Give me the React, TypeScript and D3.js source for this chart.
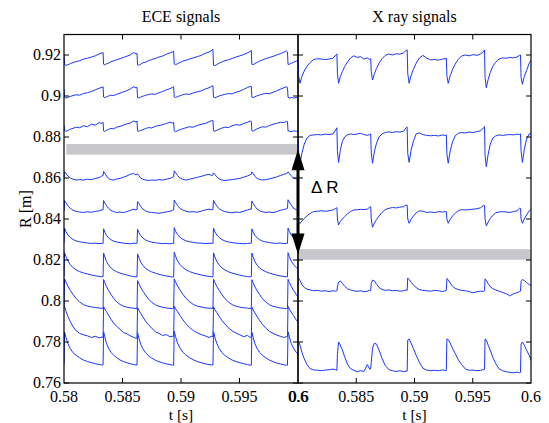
import React from "react";
import * as d3 from "d3";

// sawtooth crash times (s); the last one is the nominal end of the cut-off cycle
const CRASH_T = [0.58, 0.58334, 0.58624, 0.58937, 0.59273, 0.59601, 0.5991, 0.60235];
// where the samples sit inside each cycle (fraction of the cycle)
const PHASE = [0, 0.015, 0.05, 0.1, 0.16, 0.23, 0.31, 0.4, 0.5, 0.6, 0.7, 0.8, 0.9, 0.97];

// R values in 1e-4 m, one row per crash cycle
const ece920 = [
  [9200, 9153, 9150, 9152, 9158, 9163, 9168, 9172, 9180, 9184, 9190, 9196, 9205, 9210],
  [9212, 9155, 9152, 9157, 9160, 9167, 9171, 9177, 9182, 9188, 9194, 9200, 9212, 9205],
  [9208, 9152, 9150, 9155, 9162, 9165, 9172, 9178, 9183, 9190, 9195, 9204, 9210, 9215],
  [9218, 9156, 9152, 9158, 9163, 9170, 9174, 9180, 9186, 9192, 9198, 9208, 9214, 9222],
  [9228, 9150, 9148, 9153, 9160, 9166, 9172, 9176, 9183, 9190, 9196, 9202, 9210, 9218],
  [9222, 9155, 9153, 9158, 9164, 9170, 9176, 9182, 9188, 9193, 9200, 9206, 9214, 9220],
  [9215, 9154, 9155, 9160, 9165, 9170, 9176],
];
const ece900 = [
  [9035, 8993, 8990, 8994, 8998, 9002, 9006, 9004, 9012, 9016, 9022, 9030, 9038, 9042],
  [9045, 8995, 8992, 8996, 9000, 9004, 9002, 9008, 9014, 9020, 9026, 9034, 9045, 9040],
  [9042, 8992, 8990, 8995, 8999, 9003, 9007, 9010, 9008, 9016, 9022, 9030, 9036, 9042],
  [9045, 8996, 8993, 8997, 9001, 9006, 9010, 9008, 9015, 9020, 9025, 9034, 9040, 9048],
  [9050, 8994, 8991, 8995, 9000, 9004, 9008, 9012, 9010, 9018, 9024, 9032, 9042, 9046],
  [9046, 8995, 8992, 8997, 9001, 9005, 9009, 9013, 9011, 9018, 9025, 9033, 9040, 9045],
  [9042, 8994, 8990, 8993, 8990, 8992, 8994],
];
const ece885 = [
  [8860, 8832, 8828, 8832, 8838, 8842, 8848, 8845, 8855, 8850, 8862, 8858, 8870, 8866],
  [8872, 8830, 8827, 8833, 8837, 8842, 8840, 8848, 8852, 8858, 8864, 8868, 8878, 8874],
  [8878, 8829, 8828, 8832, 8836, 8841, 8846, 8844, 8852, 8856, 8860, 8866, 8872, 8868],
  [8872, 8830, 8826, 8831, 8836, 8840, 8845, 8850, 8848, 8856, 8862, 8866, 8874, 8880],
  [8880, 8830, 8828, 8833, 8838, 8843, 8848, 8846, 8855, 8860, 8858, 8866, 8872, 8878],
  [8876, 8831, 8828, 8834, 8840, 8845, 8850, 8848, 8856, 8862, 8866, 8872, 8870, 8876],
  [8875, 8830, 8828, 8826, 8830, 8828, 8825],
];
const ece860 = [
  [8600, 8630, 8622, 8610, 8600, 8594, 8590, 8592, 8590, 8594, 8592, 8598, 8602, 8610],
  [8612, 8632, 8624, 8610, 8598, 8592, 8590, 8595, 8598, 8604, 8610, 8618, 8622, 8615],
  [8618, 8620, 8612, 8600, 8594, 8590, 8588, 8590, 8589, 8592, 8590, 8594, 8598, 8604],
  [8606, 8635, 8626, 8612, 8600, 8594, 8590, 8594, 8598, 8603, 8608, 8614, 8618, 8612],
  [8615, 8625, 8618, 8605, 8596, 8590, 8588, 8590, 8592, 8595, 8598, 8604, 8610, 8616],
  [8618, 8630, 8622, 8608, 8598, 8593, 8590, 8592, 8596, 8600, 8605, 8612, 8618, 8622],
  [8624, 8630, 8622, 8610, 8600, 8596, 8594],
];
const ece845 = [
  [8440, 8490, 8480, 8465, 8452, 8443, 8437, 8434, 8432, 8435, 8433, 8437, 8440, 8444],
  [8446, 8490, 8478, 8466, 8452, 8442, 8436, 8432, 8434, 8431, 8436, 8442, 8448, 8444],
  [8446, 8485, 8476, 8462, 8448, 8440, 8434, 8432, 8430, 8428, 8431, 8434, 8438, 8442],
  [8444, 8492, 8480, 8466, 8452, 8444, 8438, 8434, 8436, 8433, 8438, 8444, 8448, 8445],
  [8446, 8490, 8478, 8464, 8450, 8442, 8436, 8433, 8430, 8434, 8432, 8438, 8444, 8448],
  [8448, 8488, 8476, 8462, 8448, 8440, 8435, 8432, 8434, 8431, 8436, 8442, 8446, 8450],
  [8452, 8494, 8482, 8468, 8452, 8446, 8442],
];
const ece830 = [
  [8283, 8355, 8338, 8322, 8310, 8300, 8293, 8289, 8286, 8283, 8281, 8282, 8280, 8281],
  [8281, 8352, 8336, 8320, 8308, 8299, 8292, 8288, 8285, 8282, 8281, 8279, 8282, 8281],
  [8281, 8350, 8334, 8319, 8307, 8298, 8292, 8287, 8284, 8282, 8280, 8281, 8279, 8281],
  [8281, 8358, 8340, 8324, 8311, 8301, 8294, 8289, 8286, 8283, 8282, 8280, 8282, 8281],
  [8281, 8355, 8338, 8322, 8310, 8300, 8293, 8288, 8285, 8282, 8281, 8279, 8281, 8282],
  [8282, 8352, 8336, 8320, 8308, 8299, 8292, 8288, 8285, 8282, 8281, 8283, 8280, 8281],
  [8281, 8356, 8339, 8322, 8310, 8300, 8293],
];
const ece815 = [
  [8120, 8236, 8216, 8196, 8178, 8163, 8152, 8143, 8137, 8132, 8127, 8123, 8120, 8118],
  [8118, 8234, 8215, 8192, 8176, 8162, 8151, 8143, 8136, 8131, 8127, 8122, 8119, 8118],
  [8118, 8230, 8212, 8190, 8174, 8160, 8150, 8142, 8136, 8130, 8126, 8122, 8119, 8117],
  [8117, 8238, 8218, 8195, 8178, 8164, 8153, 8144, 8137, 8132, 8127, 8123, 8120, 8118],
  [8118, 8235, 8215, 8193, 8176, 8162, 8152, 8143, 8136, 8131, 8126, 8122, 8119, 8118],
  [8118, 8234, 8214, 8192, 8175, 8161, 8151, 8143, 8136, 8131, 8126, 8122, 8120, 8118],
  [8118, 8236, 8216, 8194, 8177, 8163, 8152],
];
const ece800 = [
  [7966, 8108, 8092, 8072, 8052, 8032, 8012, 7995, 7982, 7975, 7971, 7968, 7966, 7964],
  [7964, 8105, 8090, 8070, 8052, 8033, 8013, 7996, 7983, 7975, 7970, 7967, 7965, 7963],
  [7963, 8100, 8086, 8066, 8048, 8030, 8010, 7994, 7981, 7974, 7970, 7966, 7964, 7963],
  [7963, 8108, 8093, 8073, 8054, 8034, 8014, 7997, 7983, 7975, 7971, 7967, 7965, 7964],
  [7964, 8106, 8091, 8071, 8052, 8032, 8012, 7996, 7982, 7975, 7970, 7967, 7965, 7964],
  [7964, 8104, 8089, 8069, 8050, 8031, 8011, 7995, 7982, 7974, 7970, 7966, 7964, 7963],
  [7963, 8106, 8091, 8071, 8052, 8032, 8012],
];
const ece785 = [
  [7968, 7972, 7950, 7925, 7900, 7875, 7855, 7842, 7835, 7830, 7822, 7828, 7820, 7824],
  [7822, 7972, 7960, 7948, 7932, 7911, 7893, 7876, 7862, 7846, 7840, 7830, 7823, 7818],
  [7820, 7968, 7955, 7940, 7922, 7902, 7885, 7868, 7850, 7842, 7832, 7836, 7826, 7828],
  [7826, 7975, 7962, 7948, 7930, 7910, 7890, 7872, 7856, 7845, 7836, 7830, 7822, 7828],
  [7826, 7972, 7958, 7944, 7926, 7906, 7888, 7870, 7854, 7844, 7835, 7826, 7832, 7822],
  [7824, 7970, 7956, 7942, 7924, 7904, 7886, 7868, 7852, 7842, 7834, 7828, 7822, 7826],
  [7826, 7974, 7960, 7946, 7928, 7908, 7890],
];
const ece770 = [
  [7690, 7848, 7822, 7792, 7768, 7748, 7735, 7723, 7712, 7705, 7699, 7694, 7690, 7688],
  [7688, 7850, 7825, 7794, 7770, 7750, 7736, 7724, 7712, 7705, 7699, 7694, 7690, 7688],
  [7688, 7845, 7820, 7790, 7767, 7748, 7734, 7722, 7711, 7704, 7698, 7693, 7690, 7687],
  [7687, 7852, 7826, 7795, 7771, 7751, 7737, 7724, 7713, 7705, 7699, 7694, 7690, 7688],
  [7688, 7850, 7824, 7793, 7769, 7749, 7735, 7723, 7712, 7705, 7699, 7694, 7690, 7687],
  [7687, 7848, 7823, 7792, 7768, 7749, 7735, 7723, 7712, 7704, 7698, 7693, 7689, 7687],
  [7687, 7850, 7824, 7793, 7769, 7750, 7736],
];

const xr920 = [
  [9176, 9100, 9062, 9095, 9122, 9145, 9163, 9178, 9182, 9180, 9178, 9180, 9184, 9200],
  [9205, 9110, 9062, 9094, 9119, 9144, 9165, 9185, 9196, 9188, 9192, 9180, 9186, 9178],
  [9182, 9120, 9078, 9108, 9135, 9160, 9182, 9198, 9205, 9200, 9206, 9204, 9210, 9222],
  [9225, 9110, 9062, 9100, 9130, 9160, 9185, 9198, 9185, 9176, 9178, 9175, 9180, 9182],
  [9185, 9100, 9062, 9098, 9128, 9155, 9178, 9195, 9200, 9196, 9202, 9198, 9206, 9215],
  [9225, 9090, 9040, 9080, 9115, 9145, 9165, 9180, 9186, 9184, 9188, 9186, 9190, 9198],
  [9200, 9090, 9057, 9095, 9125, 9160, 9182],
];
const xr880 = [
  [8790, 8720, 8672, 8720, 8765, 8795, 8808, 8810, 8812, 8810, 8814, 8812, 8815, 8835],
  [8845, 8730, 8676, 8735, 8778, 8800, 8810, 8815, 8812, 8815, 8818, 8812, 8808, 8812],
  [8815, 8725, 8672, 8728, 8770, 8800, 8815, 8822, 8825, 8822, 8826, 8824, 8828, 8845],
  [8848, 8720, 8676, 8735, 8780, 8815, 8820, 8812, 8808, 8806, 8808, 8805, 8810, 8808],
  [8810, 8718, 8672, 8730, 8775, 8805, 8818, 8822, 8820, 8824, 8822, 8826, 8830, 8845],
  [8850, 8710, 8655, 8715, 8765, 8795, 8805, 8810, 8808, 8810, 8812, 8810, 8814, 8812],
  [8815, 8730, 8676, 8740, 8790, 8815, 8820],
];
const xr845 = [
  [8400, 8385, 8378, 8390, 8402, 8415, 8427, 8436, 8438, 8440, 8438, 8440, 8444, 8452],
  [8455, 8400, 8371, 8388, 8400, 8412, 8425, 8436, 8444, 8445, 8447, 8446, 8448, 8458],
  [8460, 8400, 8360, 8380, 8398, 8415, 8432, 8446, 8452, 8456, 8454, 8458, 8460, 8468],
  [8468, 8400, 8379, 8398, 8415, 8430, 8440, 8438, 8432, 8434, 8431, 8436, 8434, 8436],
  [8436, 8400, 8379, 8398, 8414, 8428, 8440, 8446, 8444, 8446, 8448, 8450, 8455, 8466],
  [8466, 8400, 8366, 8385, 8402, 8418, 8430, 8434, 8436, 8434, 8432, 8436, 8440, 8452],
  [8452, 8400, 8379, 8400, 8420, 8440, 8452],
];
const xr805 = [
  [8110, 8112, 8100, 8080, 8066, 8058, 8054, 8050, 8052, 8048, 8050, 8046, 8050, 8048],
  [8050, 8070, 8092, 8098, 8086, 8072, 8060, 8054, 8050, 8047, 8050, 8045, 8048, 8052],
  [8050, 8085, 8102, 8098, 8082, 8066, 8056, 8052, 8054, 8050, 8052, 8048, 8050, 8054],
  [8052, 8112, 8105, 8092, 8078, 8066, 8056, 8052, 8050, 8048, 8052, 8050, 8046, 8050],
  [8052, 8110, 8104, 8088, 8072, 8062, 8056, 8052, 8050, 8046, 8040, 8045, 8048, 8046],
  [8050, 8108, 8100, 8085, 8070, 8060, 8054, 8048, 8042, 8036, 8025, 8035, 8040, 8046],
  [8048, 8095, 8105, 8100, 8090, 8080, 8075],
];
const xr775 = [
  [7800, 7802, 7785, 7750, 7718, 7690, 7670, 7664, 7662, 7660, 7663, 7665, 7668, 7664],
  [7662, 7740, 7800, 7785, 7762, 7728, 7693, 7670, 7662, 7655, 7660, 7656, 7690, 7668],
  [7668, 7700, 7770, 7794, 7790, 7760, 7720, 7685, 7665, 7660, 7656, 7660, 7655, 7658],
  [7658, 7810, 7815, 7795, 7768, 7735, 7702, 7672, 7663, 7660, 7662, 7660, 7664, 7661],
  [7661, 7815, 7812, 7795, 7770, 7745, 7715, 7690, 7668, 7662, 7663, 7660, 7662, 7665],
  [7665, 7815, 7810, 7785, 7760, 7725, 7695, 7670, 7660, 7655, 7652, 7650, 7653, 7650],
  [7652, 7790, 7800, 7785, 7760, 7735, 7695],
];

const ECE = [ece920, ece900, ece885, ece860, ece845, ece830, ece815, ece800, ece785, ece770];
const XRAY = [xr920, xr880, xr845, xr805, xr775];

const rTicks = [0.76, 0.78, 0.8, 0.82, 0.84, 0.86, 0.88, 0.9, 0.92];
const rTickLabels = ["0.76", "0.78", "0.8", "0.82", "0.84", "0.86", "0.88", "0.9", "0.92"];
const tTicks = [0.58, 0.585, 0.59, 0.595, 0.6];
const tTickLabels = ["0.58", "0.585", "0.59", "0.595", "0.6"];

// grey marker bands (R centre, t range) and the Delta R arrow between them
const bandR = [0.874, 0.8227];
const bandT = [[0.5802, 0.59995], [0.58008, 0.59995]];
const titles = ["ECE signals", "X ray signals"];

const W = 549, H = 423;
const TOP = 34.5, BOT = 383;
const PANELS = [[64, 298], [298, 531]];
const serif = "'Liberation Serif', 'Times New Roman', serif";
const blue = "#1a35ff";

function toPoints(rows: number[][]) {
  return rows.flatMap((row, i) =>
    row.map((v, j) => [CRASH_T[i] + PHASE[j] * (CRASH_T[i + 1] - CRASH_T[i]), v / 1e4] as [number, number])
  );
}

export default function App() {
  const y = d3.scaleLinear().domain([0.76, 0.93]).range([BOT, TOP]);
  const xs = PANELS.map(([a, b]) => d3.scaleLinear().domain([0.58, 0.6]).range([a, b]));
  const sets = [ECE, XRAY];

  const arrowX = xs[0](0.6);
  const yTop = y(bandR[0]);
  const yBot = y(bandR[1]);

  return (
    <svg width={W} height={H} style={{ position: "absolute", left: 0, top: 0, background: "#fff" }}>
      <defs>
        {PANELS.map(([a, b], k) => (
          <clipPath id={"clip" + k} key={k}>
            <rect x={a} y={TOP} width={b - a} height={BOT - TOP} />
          </clipPath>
        ))}
      </defs>

      {xs.map((x, k) => {
        const line = d3.line<[number, number]>().x(d => x(d[0])).y(d => y(d[1]));
        const [a, b] = PANELS[k];
        return (
          <g key={k}>
            <rect
              x={x(bandT[k][0])}
              y={y(bandR[k]) - 5.3}
              width={x(bandT[k][1]) - x(bandT[k][0])}
              height={10.6}
              fill="#c8c7cb"
            />
            <g clipPath={`url(#clip${k})`}>
              {sets[k].map((rows, i) => (
                <path key={i} d={line(toPoints(rows)) || ""} fill="none" stroke={blue} strokeWidth={1} />
              ))}
            </g>
            <rect x={a} y={TOP} width={b - a} height={BOT - TOP} fill="none" stroke="#000" strokeWidth={1.2} />
            {rTicks.map(r => (
              <g key={r}>
                <line x1={a} x2={a + 5} y1={y(r)} y2={y(r)} stroke="#000" />
                <line x1={b} x2={b - 5} y1={y(r)} y2={y(r)} stroke="#000" />
              </g>
            ))}
            {tTicks.slice(1, -1).map(t => (
              <g key={t}>
                <line x1={x(t)} x2={x(t)} y1={BOT} y2={BOT - 5} stroke="#000" />
                <line x1={x(t)} x2={x(t)} y1={TOP} y2={TOP + 5} stroke="#000" />
              </g>
            ))}
            {tTicks.map((t, i) =>
              k === 1 && i === 0 ? null : (
                <text key={t} x={x(t)} y={401.5} textAnchor="middle" fontFamily={serif} fontSize={16}>
                  {tTickLabels[i]}
                </text>
              )
            )}
            <text x={(a + b) / 2} y={419.5} textAnchor="middle" fontFamily={serif} fontSize={15.5}>t [s]</text>
            <text x={(a + b) / 2} y={21.5} textAnchor="middle" fontFamily={serif} fontSize={16}>{titles[k]}</text>
          </g>
        );
      })}

      {/* second, shifted copy of the shared "0.6" label */}
      <text x={xs[1](0.58) + 0.7} y={401.5} textAnchor="middle" fontFamily={serif} fontSize={16}>
        {tTickLabels[4]}
      </text>

      {rTicks.map((r, i) => (
        <text key={r} x={61} y={y(r)} dy="0.34em" textAnchor="end" fontFamily={serif} fontSize={16}>
          {rTickLabels[i]}
        </text>
      ))}
      <text transform="translate(31,209) rotate(-90)" textAnchor="middle" fontFamily={serif} fontSize={16}>
        R [m]
      </text>

      {/* Delta R arrow */}
      <line x1={arrowX} x2={arrowX} y1={yTop + 18} y2={yBot - 18} stroke="#000" strokeWidth={3} />
      <polygon points={`${arrowX},${yTop} ${arrowX - 6.5},${yTop + 21} ${arrowX + 6.5},${yTop + 21}`} fill="#000" />
      <polygon points={`${arrowX},${yBot} ${arrowX - 6.5},${yBot - 21} ${arrowX + 6.5},${yBot - 21}`} fill="#000" />
      <text x={311} y={193} fontFamily="'Liberation Sans', Arial, sans-serif" fontSize={17}>Δ R</text>
    </svg>
  );
}
